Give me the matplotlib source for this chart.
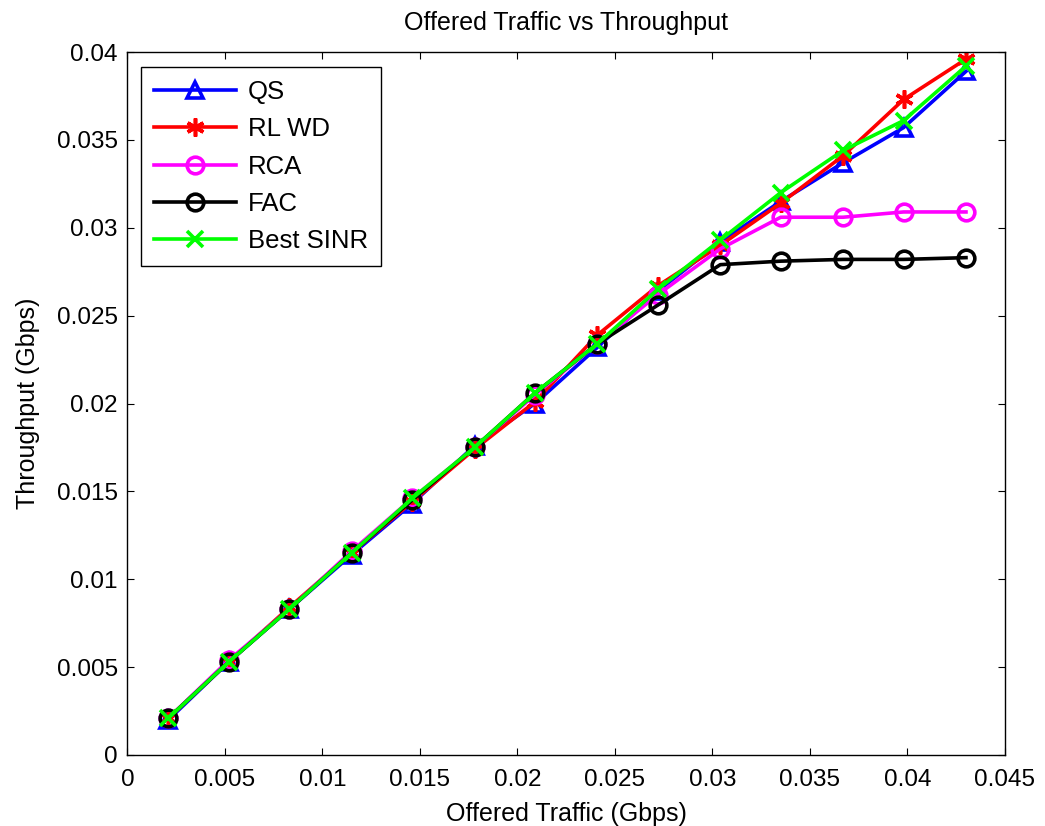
import matplotlib
matplotlib.use("Agg")
import matplotlib.pyplot as plt

plt.rcParams['font.family'] = ['Liberation Sans', 'DejaVu Sans']

# offered traffic (Gbps)
offered = [0.0021, 0.0052, 0.0083, 0.0115, 0.0146, 0.0178, 0.0209,
           0.0241, 0.0272, 0.0304, 0.0335, 0.0367, 0.0398, 0.0430]

# throughput (Gbps) per scheme
qs = [0.0020, 0.0053, 0.0083, 0.0114, 0.0143, 0.0176, 0.0200,
      0.0232, 0.0264, 0.0292, 0.0315, 0.0337, 0.0357, 0.0389]
rl_wd = [0.0021, 0.0053, 0.0084, 0.0115, 0.0144, 0.0174, 0.0201,
         0.0239, 0.0267, 0.0290, 0.0314, 0.0341, 0.0373, 0.0396]
rca = [0.0021, 0.0054, 0.0083, 0.0116, 0.0146, 0.0175, 0.0205,
       0.0234, 0.0262, 0.0288, 0.0306, 0.0306, 0.0309, 0.0309]
fac = [0.0021, 0.0053, 0.0083, 0.0115, 0.0145, 0.0175, 0.0206,
       0.0234, 0.0256, 0.0279, 0.0281, 0.0282, 0.0282, 0.0283]
best_sinr = [0.0021, 0.0053, 0.0083, 0.0115, 0.0146, 0.0175, 0.0206,
             0.0234, 0.0265, 0.0293, 0.0320, 0.0344, 0.0361, 0.0392]

x_ticks = [0, 0.005, 0.01, 0.015, 0.02, 0.025, 0.03, 0.035, 0.04, 0.045]
x_tick_labels = ['0', '0.005', '0.01', '0.015', '0.02', '0.025', '0.03', '0.035', '0.04', '0.045']
y_ticks = [0, 0.005, 0.01, 0.015, 0.02, 0.025, 0.03, 0.035, 0.04]
y_tick_labels = ['0', '0.005', '0.01', '0.015', '0.02', '0.025', '0.03', '0.035', '0.04']

fig = plt.figure(figsize=(10.45, 8.26), dpi=100)
ax = fig.add_axes([0.122, 0.086, 0.8397, 0.851])

lw = 2.6
ax.plot(offered, qs, color='#0000ff', lw=lw, marker='^', ms=12,
        mfc='none', mew=2.6, label='QS')
ax.plot(offered, rl_wd, color='#ff0000', lw=lw, marker=(6, 2, 0), ms=13,
        mew=2.6, label='RL WD')
ax.plot(offered, rca, color='#ff00ff', lw=lw, marker='o', ms=12,
        mfc='none', mew=2.6, label='RCA')
ax.plot(offered, fac, color='#000000', lw=lw, marker='o', ms=12,
        mfc='none', mew=2.6, label='FAC')
ax.plot(offered, best_sinr, color='#00ff00', lw=lw, marker='x', ms=11,
        mew=2.6, label='Best SINR')

ax.set_xlim(0, 0.045)
ax.set_ylim(0, 0.04)
ax.set_xticks(x_ticks)
ax.set_xticklabels(x_tick_labels)
ax.set_yticks(y_ticks)
ax.set_yticklabels(y_tick_labels)
ax.tick_params(direction='in', top=True, right=True, length=5, width=0.8,
               labelsize=17.5)
ax.tick_params(axis='x', pad=10)
ax.tick_params(axis='y', pad=7)
for s in ax.spines.values():
    s.set_linewidth(1.0)

ax.set_title('Offered Traffic vs Throughput', fontsize=18, pad=16)
ax.set_xlabel('Offered Traffic (Gbps)', fontsize=18, labelpad=8)
ax.set_ylabel('Throughput (Gbps)', fontsize=18, labelpad=12)

leg = ax.legend(loc='upper left', bbox_to_anchor=(0.0154, 0.9787),
                borderaxespad=0, fontsize=18.5, handlelength=3.2,
                handletextpad=0.45, fancybox=False, framealpha=1,
                borderpad=0.5, labelspacing=0.52)
leg.get_frame().set_edgecolor('black')
leg.get_frame().set_linewidth(1.0)

fig.savefig('out.png', dpi=100)
